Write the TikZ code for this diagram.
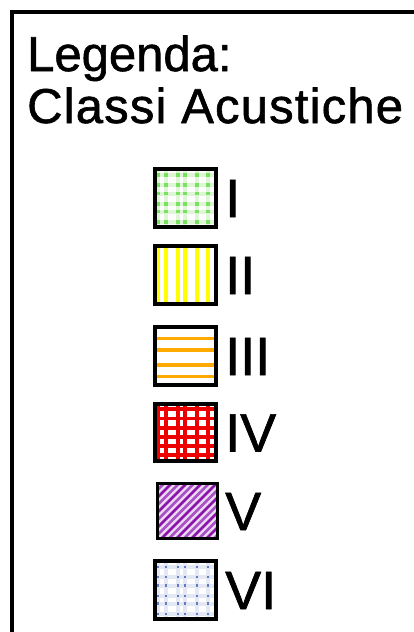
\documentclass[tikz,border=0pt]{standalone}
\usepackage{fontspec}
\setmainfont{Liberation Sans}[FakeBold=1.2]
\definecolor{gridgreen}{RGB}{222,246,214}
\definecolor{dotgreen}{RGB}{120,226,96}
\definecolor{ylw}{RGB}{255,255,0}
\definecolor{org}{RGB}{255,170,0}
\definecolor{redl}{RGB}{236,0,0}
\definecolor{purbg}{RGB}{236,218,242}
\definecolor{purdk}{RGB}{140,20,170}
\definecolor{purmd}{RGB}{168,80,196}
\definecolor{gridblue}{RGB}{228,232,244}
\definecolor{dotblue}{RGB}{96,124,192}
\begin{document}
\begin{tikzpicture}[x=1pt,y=-1pt,
  swatch/.style={draw=black, line width=4pt, inner sep=0pt, outer sep=0pt},
  lbl/.style={anchor=base west, inner sep=0pt, font=\fontsize{54}{54}\selectfont},
  ttl/.style={anchor=base west, inner sep=0pt, font=\fontsize{49}{49}\selectfont},
  frame/.style={line width=4pt, draw=black}]
\useasboundingbox (0,0) rectangle (414,632);
\fill[white] (0,0) rectangle (414,632);
\coordinate (fb) at (12,632);
\coordinate (fc) at (12,12);
\coordinate (fr) at (414,12);
\draw[frame] (fb) -- (fc) -- (fr);

\node[ttl] (t1) at (27,71) {Legenda:};
\node[ttl] (t2) at (27,123) {\addfontfeature{LetterSpace=2.4}Classi Acustiche};

% I - green dotted grid
\begin{scope}
\clip (157,171) rectangle (214,225);
\foreach \x in {158,166,178,185,197,208} \draw[gridgreen, line width=4pt] (\x,165) -- (\x,230);
\foreach \y in {175,185,193.5,204,211.5,222} \draw[gridgreen, line width=4pt] (150,\y) -- (220,\y);
\foreach \x in {158,166,178,185,197,208} \foreach \y in {175,185,193.5,204,211.5,222}
  \fill[dotgreen] (\x-1.6,\y-1.6) rectangle (\x+1.6,\y+1.6);
\end{scope}
\node[swatch, minimum width=61, minimum height=58] (b1) at (185.5,198) {};
\node[lbl] (l1) at (225,217) {I};

% II - yellow vertical lines
\begin{scope}
\clip (157,248) rectangle (214,302);
\foreach \x in {158,166,178,185,197,208} \draw[ylw, line width=4pt] (\x,240) -- (\x,310);
\end{scope}
\node[swatch, minimum width=61, minimum height=58] (b2) at (185.5,275) {};
\node[lbl] (l2) at (225,294) {II};

% III - orange horizontal lines
\begin{scope}
\clip (157,329) rectangle (214,383);
\foreach \y in {338.5,350,365,376.5} \draw[org, line width=3.6pt] (150,\y) -- (220,\y);
\end{scope}
\node[swatch, minimum width=61, minimum height=58] (b3) at (185.5,356) {};
\node[lbl] (l3) at (225,375) {III};

% IV - red grid
\begin{scope}
\clip (157,406) rectangle (214,459);
\foreach \x in {158,166,178,185,197,208} \draw[redl, line width=4pt] (\x,400) -- (\x,465);
\foreach \y in {408.7,418.3,428,436.7,445.8,454.7} \draw[redl, line width=3.6pt] (150,\y) -- (220,\y);
\end{scope}
\node[swatch, minimum width=61, minimum height=57] (b4) at (185.5,432.5) {};
\node[lbl] (l4) at (225,451.5) {IV};

% V - purple diagonal hatch
\begin{scope}
\clip (159,485) rectangle (216,537);
\fill[purbg] (150,480) rectangle (220,545);
\foreach \k in {-10,...,14} {
  \draw[purdk, line width=2.6pt] ({80+\k*15},545) -- ++(75,-75);
  \draw[purmd, line width=2.6pt] ({87.5+\k*15},545) -- ++(75,-75);
}
\end{scope}
\node[swatch, line width=3pt, minimum width=60, minimum height=55] (b5) at (187.5,511) {};
\node[lbl] (l5) at (225,530) {V};

% VI - blue dotted grid
\begin{scope}
\clip (157,563) rectangle (214,617);
\foreach \x in {158,166,178,185,197,208} \draw[gridblue, line width=4pt] (\x,555) -- (\x,625);
\foreach \y in {567,577,585.5,596,603.5,614} \draw[gridblue, line width=4pt] (150,\y) -- (220,\y);
\foreach \x in {158,166,178,185,197,208} \foreach \y in {567,577,585.5,596,603.5,614}
  \fill[dotblue] (\x-1.4,\y-1.4) rectangle (\x+1.4,\y+1.4);
\end{scope}
\node[swatch, minimum width=61, minimum height=58] (b6) at (185.5,590) {};
\node[lbl] (l6) at (225,609) {VI};
\end{tikzpicture}
\end{document}
